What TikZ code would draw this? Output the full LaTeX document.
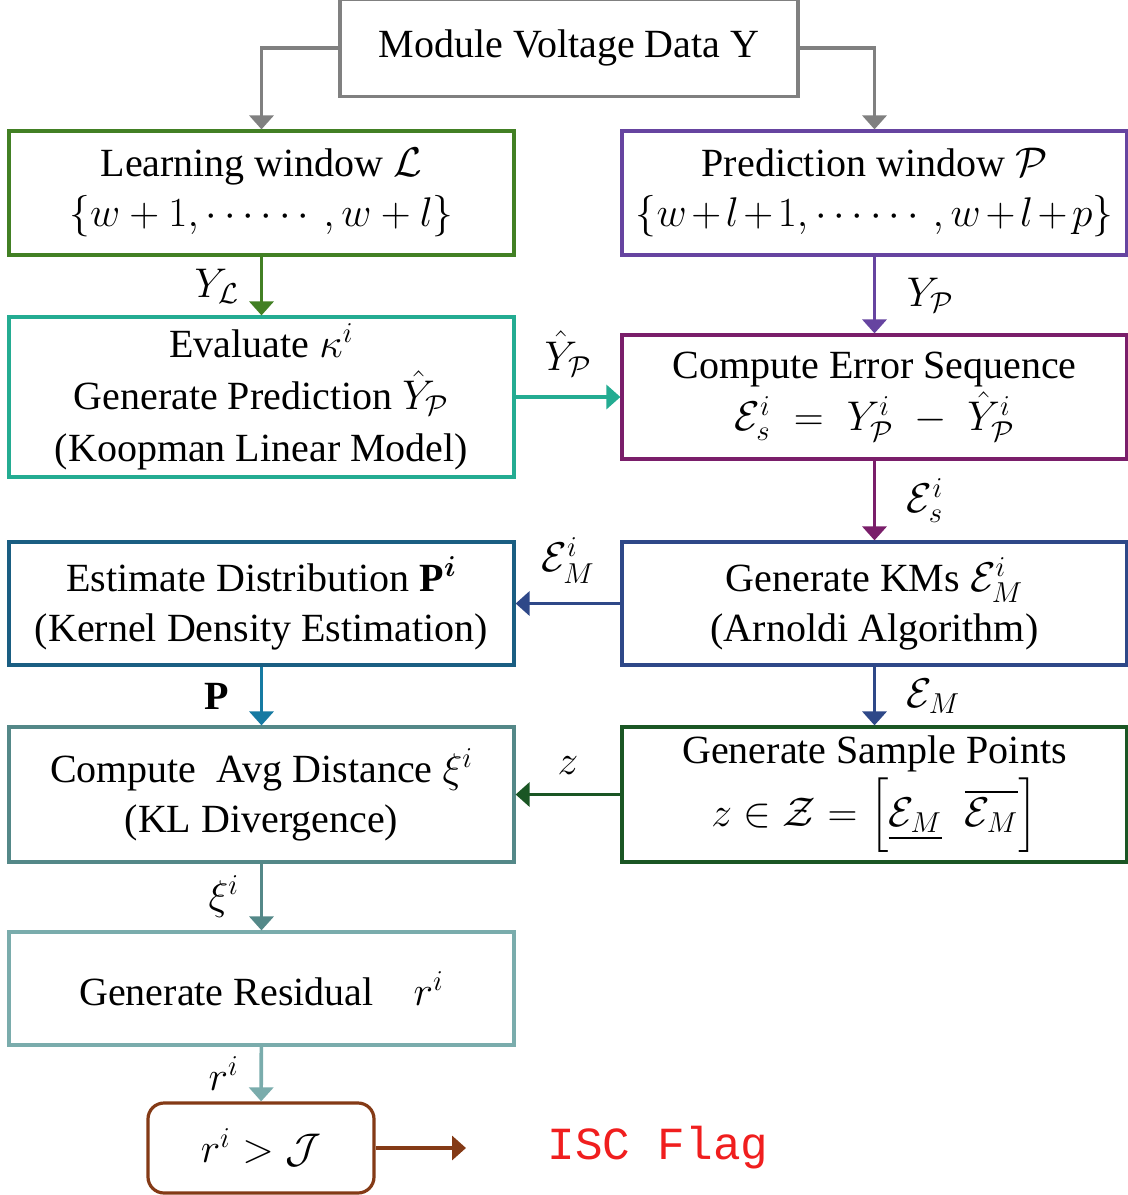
\documentclass[tikz,border=0pt]{standalone}
\usepackage{amsmath}
\usepackage{fontspec}
\setmainfont{Liberation Serif}
\setmonofont{Liberation Mono}
\usetikzlibrary{arrows.meta}
\definecolor{cus-gray}{RGB}{128,128,128}
\definecolor{cus-green}{RGB}{66,128,36}
\definecolor{cus-purp}{RGB}{102,68,160}
\definecolor{cus-aqua}{RGB}{36,172,146}
\definecolor{cus-mag}{RGB}{122,30,106}
\definecolor{cus-blue}{RGB}{26,94,130}
\definecolor{cus-blue1}{RGB}{22,122,162}
\definecolor{cus-navy}{RGB}{46,72,136}
\definecolor{cus-teal}{RGB}{84,136,136}
\definecolor{cus-green1}{RGB}{26,86,36}
\definecolor{cus-teal1}{RGB}{122,172,172}
\definecolor{cus-brown}{RGB}{132,58,22}
\definecolor{cus-red}{RGB}{240,30,30}
\tikzset{
	blk/.style={draw=#1, line width=1.6pt, minimum width=252.5pt, minimum height=62pt,
		align=center, inner sep=0pt, fill=white},
	flow/.style={draw=#1, line width=1.8pt, -{Triangle[width=12pt,length=7pt]}}
}

\begin{document}
\begin{tikzpicture}[x=0.5pt, y=-0.5pt, font=\fontsize{20}{25}\selectfont]
\useasboundingbox (0,0) rectangle (1128,1195);

% boxes
\node [blk=cus-gray, minimum width=229pt, minimum height=48.5pt] (data) at (569,48) {Module Voltage Data Y};
\node [blk=cus-green] (learn) at (261.5,193) {Learning window $\mathcal{L}$\\ $\{w+1,\cdots\cdots,w+l\}$};
\node [blk=cus-purp] (pred) at (874.5,193) {Prediction window $\mathcal{P}$\\ $\medmuskip=2mu \{w+l+1,\cdots\cdots,w+l+p\}$};
\node [blk=cus-aqua, minimum height=80pt] (eval) at (261.5,397) {Evaluate $\kappa^{i}$\\[1pt] Generate Prediction $\hat{Y}_{\mathcal{P}}$\\[1pt] (Koopman Linear Model)};
\node [blk=cus-mag] (err) at (874.5,397) {Compute Error Sequence\\[1pt] $\mathcal{E}_s^{i} \;=\; Y_{\mathcal{P}}^{i} \;-\; \hat{Y}_{\mathcal{P}}^{i}$};
\node [blk=cus-blue, minimum height=61.5pt] (est) at (261.5,603.5) {Estimate Distribution $\mathbf{P}^{\boldsymbol{i}}$\\ (Kernel Density Estimation)};
\node [blk=cus-navy, minimum height=61.5pt] (kms) at (874.5,603.5) {Generate KMs $\mathcal{E}_M^{i}$\\ (Arnoldi Algorithm)};
\node [blk=cus-teal, minimum height=67.5pt] (avg) at (261.5,794.5) {Compute\ \ Avg Distance $\xi^{i}$\\ (KL Divergence)};
\node [blk=cus-green1, minimum height=67.5pt] (samp) at (874.5,794.5) {Generate Sample Points\\[2pt] $z \in \mathcal{Z} = \Big[\underline{\mathcal{E}_M}\;\;\overline{\mathcal{E}_M}\Big]$};
\node [blk=cus-teal1, minimum height=56.5pt] (resid) at (261.5,988.5) {Generate Residual\quad $r^{i}$};
\node [blk=cus-brown, minimum width=113pt, minimum height=45pt, rounded corners=8pt] (thr) at (261,1148) {$r^{i} > \mathcal{J}$};
\node [text=cus-red, font=\fontsize{23}{25}\ttfamily] (flag) at (658,1148) {ISC Flag};
\coordinate (flagin) at (466,1148);

% arrows
\draw [flow=cus-gray] (data.west) -| (learn.north);
\draw [flow=cus-gray] (data.east) -| (pred.north);
\draw [flow=cus-green] (learn) -- node[midway,left=7pt] {$Y_{\mathcal{L}}$} (eval);
\draw [flow=cus-purp] (pred) -- node[midway,right=12pt] {$Y_{\mathcal{P}}$} (err);
\draw [flow=cus-aqua] (eval.east) -- node[midway,above=6pt] {$\hat{Y}_{\mathcal{P}}$} (eval.east -| err.west);
\draw [flow=cus-mag] (err) -- node[midway,right=12pt] {$\mathcal{E}_s^{i}$} (kms);
\draw [flow=cus-navy] (kms.west) -- node[midway,above=6pt] {$\mathcal{E}_M^{i}$} (est.east);
\draw [flow=cus-blue1] (est) -- node[midway,left=12pt] {$\mathbf{P}$} (avg);
\draw [flow=cus-navy] (kms) -- node[midway,right=12pt] {$\mathcal{E}_M$} (samp);
\draw [flow=cus-green1] (samp.west) -- node[midway,above=6pt] {$z$} (avg.east);
\draw [flow=cus-teal] (avg) -- node[midway,left=7pt] {$\xi^{i}$} (resid);
\draw [flow=cus-teal1] (resid) -- node[midway,left=7pt] {$r^{i}$} (thr);
\draw [flow=cus-brown] (thr.east) -- (flagin);
\end{tikzpicture}
\end{document}
